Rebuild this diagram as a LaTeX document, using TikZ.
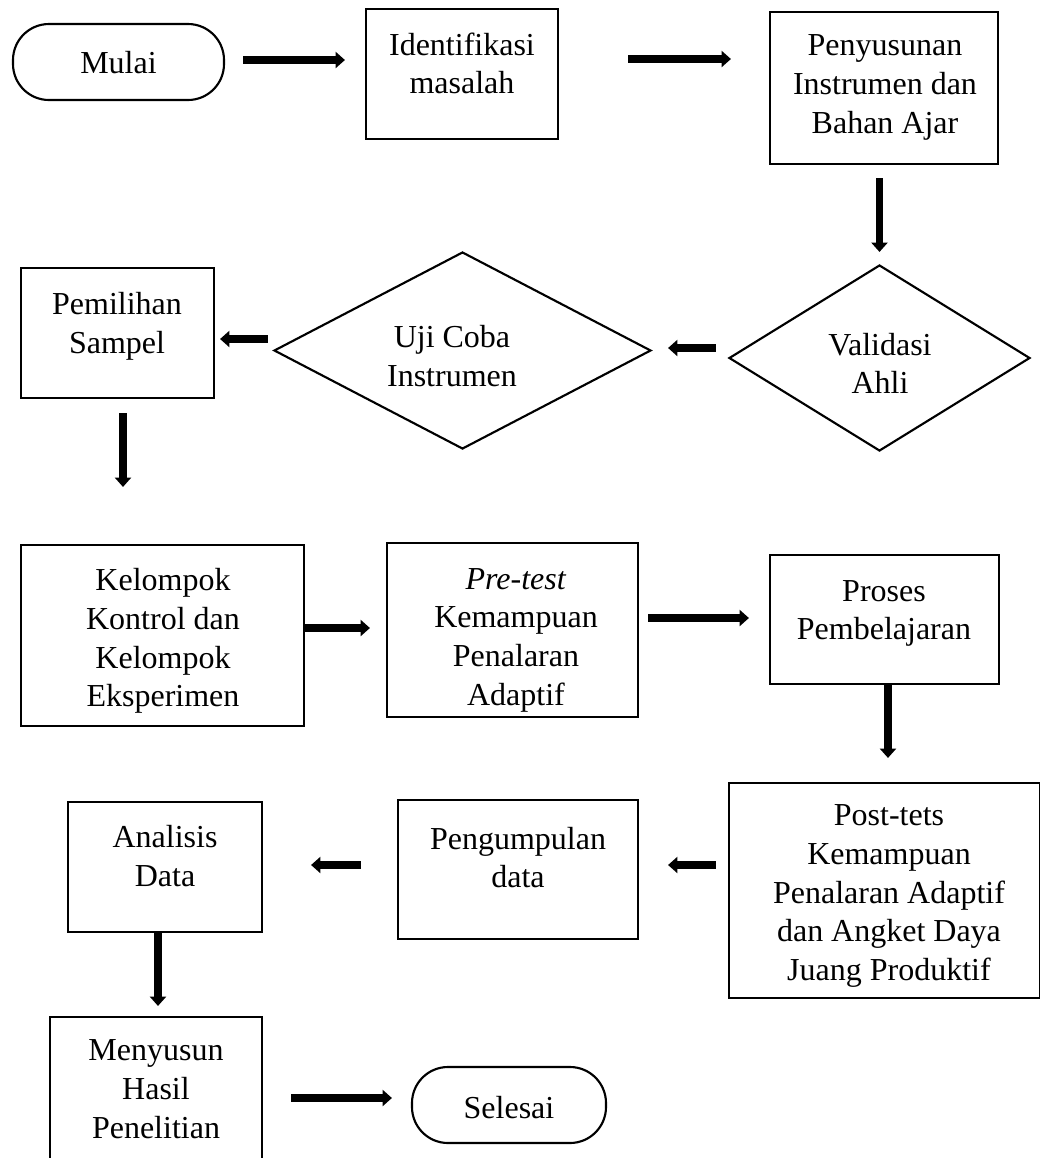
\documentclass[tikz,border=0pt]{standalone}
\usepackage{fontspec}
\setmainfont{Liberation Serif}
\usetikzlibrary{shapes.geometric,arrows.meta,calc}
\begin{document}
\begin{tikzpicture}[x=0.75pt,y=-0.75pt,
  box/.style={draw, line width=1.6pt, rectangle, inner sep=0pt},
  term/.style={draw, line width=1.6pt, rectangle, rounded corners=27pt, inner sep=0pt},
  dia/.style={draw, line width=1.6pt, diamond, inner sep=0pt},
  lbl/.style={align=center, inner sep=0pt, font=\fontsize{24pt}{29pt}\selectfont},
  arr/.style={line width=5.75pt, -{Triangle[length=7pt,width=12pt]}}
]
\useasboundingbox (0,0) rectangle (1040,1158);
\fill[white] (0,0) rectangle (1040,1158);

% shapes
\node[term, minimum width=158.25pt, minimum height=57pt] (mulai) at (118.5,62) {};
\node[box, minimum width=144pt, minimum height=97.5pt] (ident) at (462,74) {};
\node[box, minimum width=171pt, minimum height=114pt] (peny) at (884,88) {};
\node[dia, minimum width=225.75pt, minimum height=139.5pt] (valid) at (879.5,358) {};
\node[dia, minimum width=282.75pt, minimum height=147.75pt] (uji) at (462.5,350.5) {};
\node[box, minimum width=144.75pt, minimum height=97.5pt] (pemi) at (117.5,333) {};
\node[box, minimum width=212.25pt, minimum height=135.75pt] (kel) at (162.5,635.5) {};
\node[box, minimum width=188.25pt, minimum height=130.5pt] (pre) at (512.5,630) {};
\node[box, minimum width=171.75pt, minimum height=96.75pt] (proses) at (884.5,619.5) {};
\node[box, minimum width=233.25pt, minimum height=161.25pt] (post) at (884.5,890.5) {};
\node[box, minimum width=180pt, minimum height=104.25pt] (peng) at (518,869.5) {};
\node[box, minimum width=145.5pt, minimum height=97.5pt] (anal) at (165,867) {};
\node[box, minimum width=159pt, minimum height=106.5pt] (meny) at (156,1088) {};
\node[term, minimum width=145.5pt, minimum height=57pt] (sel) at (509,1105) {};

% texts
\node[lbl] (tmulai) at (118.5,63) {Mulai};
\node[lbl] (tident) at (462,63.5) {Identifikasi\\masalah};
\node[lbl] (tpeny) at (885,87.5) {Penyusunan\\Instrumen dan\\Bahan Ajar};
\node[lbl] (tvalid) at (880,363.5) {Validasi\\Ahli};
\node[lbl] (tuji) at (452,356) {Uji Coba\\Instrumen};
\node[lbl] (tpemi) at (117,326) {Pemilihan\\Sampel};
\node[lbl] (tkel) at (163,641) {Kelompok\\Kontrol dan\\Kelompok\\Eksperimen};
\node[lbl] (tpre) at (516,640) {\textit{Pre-test}\\Kemampuan\\Penalaran\\Adaptif};
\node[lbl] (tproses) at (884,613.5) {Proses\\Pembelajaran};
\node[lbl] (tpost) at (889,896) {Post-tets\\Kemampuan\\Penalaran Adaptif\\dan Angket Daya\\Juang Produktif};
\node[lbl] (tpeng) at (518,857.5) {Pengumpulan\\data};
\node[lbl] (tanal) at (165,856) {Analisis\\Data};
\node[lbl] (tmeny) at (156,1089) {Menyusun\\Hasil\\Penelitian};
\node[lbl] (tsel) at (509,1108) {Selesai};

% connectors
\draw[arr, shorten <=13.5pt, shorten >=15pt] ($(mulai.east)+(0,-2)$) -- ($(ident.west)+(0,-14)$);
\draw[arr, shorten <=51.75pt, shorten >=28.5pt] ($(ident.east)+(0,-15)$) -- ($(peny.west)+(0,-29)$);
\draw[arr, shorten <=9.75pt, shorten >=9pt] (peny.south -| valid.north) -- (valid.north);
\draw[arr, shorten <=9pt, shorten >=12pt] ($(valid.west)+(0,-10)$) -- ($(uji.east)+(0,-2.5)$);
\draw[arr, shorten <=3.75pt, shorten >=3.75pt] ($(uji.west)+(0,-11.5)$) -- ($(pemi.east)+(0,6)$);
\coordinate (c6) at ($(pemi.south)+(5.5,0)$);
\draw[arr, shorten <=10.5pt, shorten >=42.75pt] (c6) -- (c6 |- kel.north);
\draw[arr, shorten >=12pt] ($(kel.east)+(0,-7.5)$) -- ($(pre.west)+(0,-2)$);
\draw[arr, shorten <=6.75pt, shorten >=15pt] ($(pre.east)+(0,-12)$) -- ($(proses.west)+(0,-1.5)$);
\draw[arr, shorten >=18pt] ($(proses.south)+(3.5,0)$) -- ($(post.north)+(3.5,0)$);
\draw[arr, shorten <=9pt, shorten >=21.75pt] ($(post.west)+(0,-25.5)$) -- ($(peng.east)+(0,-4.5)$);
\draw[arr, shorten <=27pt, shorten >=36pt] ($(peng.west)+(0,-4.5)$) -- ($(anal.east)+(0,-2)$);
\draw[arr, shorten >=7.5pt] ($(anal.south)+(-7,0)$) -- ($(meny.north)+(2,0)$);
\draw[arr, shorten <=21pt, shorten >=14.25pt] ($(meny.east)+(0,10)$) -- ($(sel.west)+(0,-7)$);
\end{tikzpicture}
\end{document}
